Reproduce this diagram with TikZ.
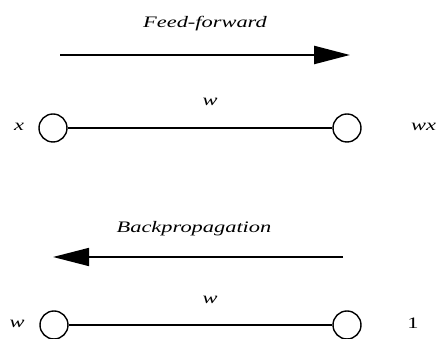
\documentclass[tikz,border=0pt]{standalone}
\usepackage{fontspec}
\setmainfont{Liberation Serif}
\usetikzlibrary{arrows.meta}
\newcommand{\stretchtxt}[1]{\scalebox{1.4}[1]{#1}}
\begin{document}
\begin{tikzpicture}[x=1pt, y=1pt, >={Triangle[length=36pt,width=18pt]},
    neuron/.style={draw, circle, minimum size=28pt, inner sep=0pt, line width=1.4pt},
    lbl/.style={font=\fontsize{16}{18}\selectfont\itshape, inner sep=0pt}]
    \useasboundingbox (0,0) rectangle (437,339);

    % feed-forward pass
    \node[lbl] (fflabel) at (205, 315) {\stretchtxt{Feed-forward}};
    \coordinate (ffstart) at (60, 284);
    \coordinate (ffend) at (350, 284);
    \draw[->, line width=2.4pt] (ffstart) -- (ffend);

    \node[neuron] (ffin) at (53, 211) {};
    \node[neuron] (ffout) at (347, 211) {};
    \draw[line width=2pt] (ffin) -- (ffout);
    \node[lbl] (ffw) at (210, 237) {\stretchtxt{w}};
    \node[lbl] (ffx) at (19, 212) {\stretchtxt{x}};
    \node[lbl, anchor=west] (ffwx) at (411, 212) {\stretchtxt{wx}};

    % backpropagation pass
    \node[lbl] (bplabel) at (194, 110) {\stretchtxt{Backpropagation}};
    \coordinate (bpstart) at (343, 82);
    \coordinate (bpend) at (53, 82);
    \draw[->, line width=1.6pt] (bpstart) -- (bpend);

    \node[neuron] (bpin) at (54, 14) {};
    \node[neuron] (bpout) at (347, 14) {};
    \draw[line width=1.5pt] (bpin) -- (bpout);
    \node[lbl] (bpw) at (210, 39) {\stretchtxt{w}};
    \node[lbl] (bpwin) at (17, 15) {\stretchtxt{w}};
    \node[lbl, font=\fontsize{16}{18}\selectfont] (bpone) at (413, 16) {\stretchtxt{1}};
\end{tikzpicture}
\end{document}
